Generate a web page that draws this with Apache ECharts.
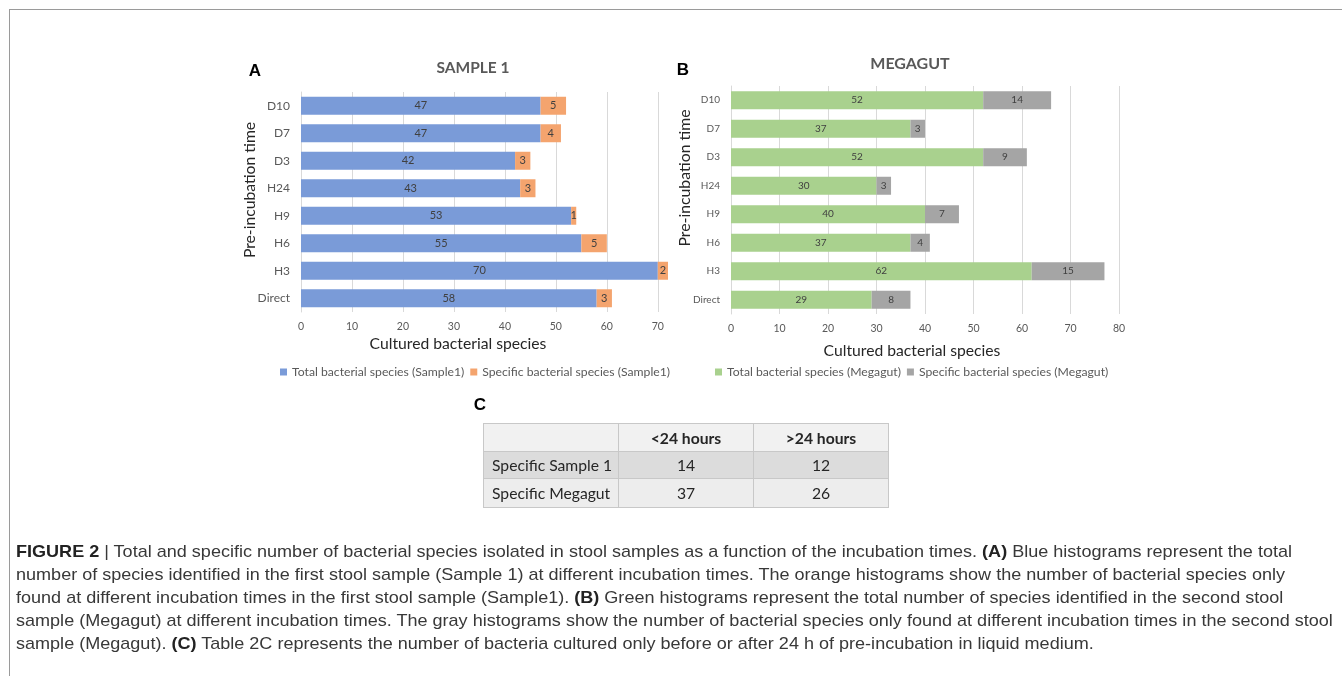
<!DOCTYPE html>
<html><head><meta charset="utf-8">
<script src="https://cdn.jsdelivr.net/npm/echarts@6/dist/echarts.min.js"></script>
<style>
html,body{margin:0;padding:0;background:#fff;}
#wrap{position:relative;width:1342px;height:676px;overflow:hidden;background:#fff;}
#chart{position:absolute;left:0;top:0;width:1342px;height:676px;}
#frame{position:absolute;left:9px;top:9px;width:1400px;height:700px;border-left:1px solid #9a9a9a;border-top:1px solid #9a9a9a;pointer-events:none;}
#tbl{position:absolute;left:483px;top:423px;border-collapse:collapse;font-family:Lato,"Open Sans",sans-serif;font-size:15.7px;color:#262626;}
#tbl td{border:1px solid #c8c8c8;width:135px;padding:0;box-sizing:border-box;text-align:center;}
#tbl td.rl{text-align:left;padding-left:8px;}
#tbl tr.h td{background:#f1f1f1;font-weight:bold;height:28px;}
#tbl tr.r1 td{background:#dcdcdc;height:27px;}
#tbl tr.r2 td{background:#ededed;height:29px;}
#cap{position:absolute;left:16px;top:540px;font-family:"Liberation Sans",Arial,sans-serif;font-size:17px;line-height:23px;color:#383838;transform-origin:0 0;}
#cap div{white-space:nowrap;width:max-content;}
#cap b{font-weight:bold;color:#222;}
</style>
</head><body>
<div id="wrap">
<div id="chart"></div>
<table id="tbl"></table>
<div id="cap"></div>
<div id="frame"></div>
</div>
<script>
// ---- data ----
const categories = ['D10','D7','D3','H24','H9','H6','H3','Direct'];
const sample1Total = [47,47,42,43,53,55,70,58];
const sample1Specific = [5,4,3,3,1,5,2,3];
const megagutTotal = [52,37,52,30,40,37,62,29];
const megagutSpecific = [14,3,9,3,7,4,15,8];
const seriesNames = ['Total bacterial species (Sample1)','Specific bacterial species (Sample1)',
                     'Total bacterial species (Megagut)','Specific bacterial species (Megagut)'];
const tableHeader = ['', '<24 hours', '>24 hours'];
const tableRowLabels = ['Specific Sample 1','Specific Megagut'];
const tableLess24 = [14,37];
const tableMore24 = [12,26];
const captionLines = [
 '<b>FIGURE 2</b> | Total and specific number of bacterial species isolated in stool samples as a function of the incubation times. <b>(A)</b> Blue histograms represent the total',
 'number of species identified in the first stool sample (Sample 1) at different incubation times. The orange histograms show the number of bacterial species only',
 'found at different incubation times in the first stool sample (Sample1). <b>(B)</b> Green histograms represent the total number of species identified in the second stool',
 'sample (Megagut) at different incubation times. The gray histograms show the number of bacterial species only found at different incubation times in the second stool',
 'sample (Megagut). <b>(C)</b> Table 2C represents the number of bacteria cultured only before or after 24 h of pre-incubation in liquid medium.'
];

// ---- table ----
const tbl = document.getElementById('tbl');
let html = '<tr class="h">' + tableHeader.map(h => '<td>' + h.replace('<','&lt;').replace('>','&gt;') + '</td>').join('') + '</tr>';
tableRowLabels.forEach((r,i) => {
  html += '<tr class="r' + (i+1) + '"><td class="rl">' + r + '</td><td>' + tableLess24[i] + '</td><td>' + tableMore24[i] + '</td></tr>';
});
tbl.innerHTML = html;

// ---- caption ----
const cap = document.getElementById('cap');
cap.innerHTML = captionLines.map(l => '<div>' + l + '</div>').join('');
const firstW = cap.firstChild.getBoundingClientRect().width;
cap.style.transform = 'scaleX(' + (1276 / firstW) + ')';

// ---- chart ----
const F = 'Lato, "Open Sans", sans-serif';
const chart = echarts.init(document.getElementById('chart'), null, {renderer:'canvas'});
const grid = '#d9d9d9';
function yAxis(idx, fs){
  return {type:'category', gridIndex:idx, data:categories, inverse:true,
    axisLine:{show:true, lineStyle:{color:grid}}, axisTick:{show:false},
    axisLabel:{color:'#595959', fontSize:fs, fontFamily:F, margin:11}};
}
function xAxis(idx, max){
  return {type:'value', gridIndex:idx, min:0, max:max, interval:10,
    axisLine:{show:false}, axisTick:{show:false},
    splitLine:{show:true, showMaxLine: max % 10 === 0, lineStyle:{color:grid, width:1}},
    axisLabel:{color:'#595959', fontSize:10.5, fontFamily:F, margin:9, showMaxLabel: max % 10 === 0}};
}
function bar(name, data, stack, idx, color, fs){
  return {name:name, type:'bar', stack:stack, xAxisIndex:idx, yAxisIndex:idx, data:data,
    barWidth:18, itemStyle:{color:color},
    label:{show:true, position:'inside', color:'#404040', fontSize:fs, fontFamily:F}};
}
function txt(text, x, y, font, fill, rot){
  return {type:'text', x:x, y:y, rotation:rot||0,
    style:{text:text, font:font, fill:fill, align:'center', verticalAlign:'middle'}};
}
const legendText = {color:'#595959', fontSize:12.2, fontFamily:F};
const option = {
  animation:false,
  backgroundColor:'transparent',
  grid:[
    {left:301, top:92, width:367, height:220},
    {left:731, top:86, width:388, height:228}
  ],
  xAxis:[xAxis(0,72), xAxis(1,80)],
  yAxis:[yAxis(0,12), yAxis(1,10)],
  legend:[
    {data:[seriesNames[0], seriesNames[1]], left:280, top:366, padding:0, icon:'rect', itemWidth:7, itemHeight:7, itemGap:6,
     textStyle:legendText, selectedMode:false},
    {data:[seriesNames[2], seriesNames[3]], left:715, top:366, padding:0, icon:'rect', itemWidth:7, itemHeight:7, itemGap:6,
     textStyle:legendText, selectedMode:false}
  ],
  series:[
    bar(seriesNames[0], sample1Total, 'a', 0, '#7a9bd8', 11),
    bar(seriesNames[1], sample1Specific, 'a', 0, '#f4a46e', 11),
    bar(seriesNames[2], megagutTotal, 'b', 1, '#a9d18e', 10),
    bar(seriesNames[3], megagutSpecific, 'b', 1, '#a5a5a5', 10)
  ],
  graphic:[
    txt('A', 255, 71, 'bold 17px "Liberation Sans", Arial', '#000'),
    txt('B', 683, 70, 'bold 17px "Liberation Sans", Arial', '#000'),
    txt('C', 480, 405, 'bold 17px "Liberation Sans", Arial', '#000'),
    txt('SAMPLE 1', 473, 68, 'bold 15.5px ' + F, '#595959'),
    txt('MEGAGUT', 910, 64, 'bold 16px ' + F, '#595959'),
    txt('Cultured bacterial species', 458, 344, '15.7px ' + F, '#262626'),
    txt('Cultured bacterial species', 912, 351, '15.7px ' + F, '#262626'),
    txt('Pre-incubation time', 250, 190, '15.7px ' + F, '#262626', Math.PI/2),
    txt('Pre-incubation time', 685, 178, '15.8px ' + F, '#262626', Math.PI/2)
  ]
};
chart.setOption(option);
</script>
</body></html>
